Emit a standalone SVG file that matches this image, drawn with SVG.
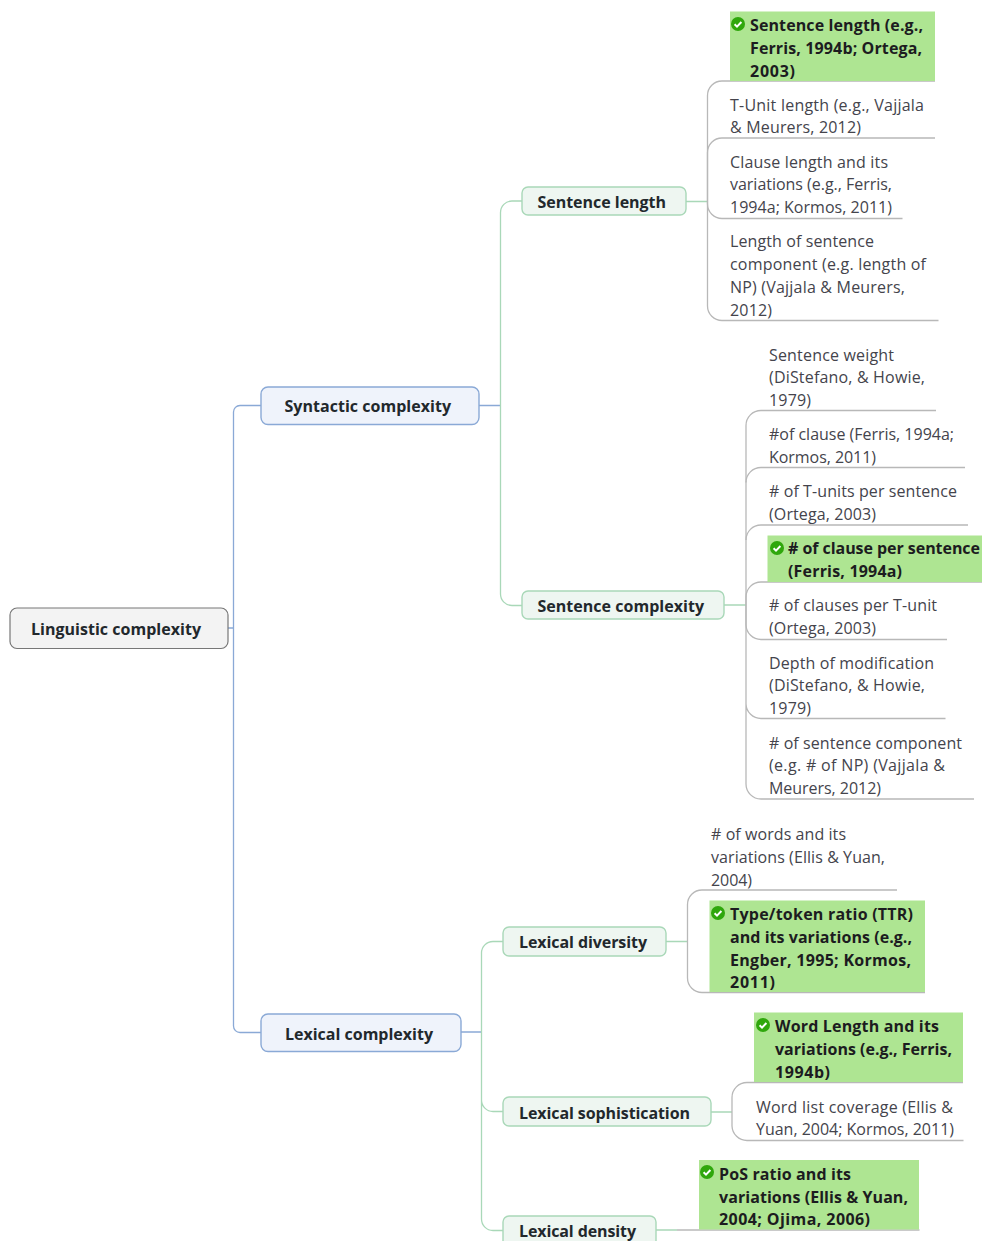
<svg xmlns="http://www.w3.org/2000/svg" width="982" height="1241" viewBox="0 0 982 1241">
<style>
text{font-family:"Open Sans","Noto Sans",sans-serif;font-size:16px;fill:#44444c}
.b{font-weight:700;fill:#1c1c20}
.t{font-weight:700;fill:#22282c}
.con{fill:none;stroke-width:1.3}
.blue{stroke:#8aa9d6}
.grn{stroke:#a9d8b8}
.gry{stroke:#b8b8b8}
.hl{fill:#aee592}
.n1{fill:#eff3fb;stroke:#8aa9d6;stroke-width:1.4}
.n2{fill:#eef6f1;stroke:#a9d8b8;stroke-width:1.4}
.r{fill:#f3f3f3;stroke:#777;stroke-width:1.2}
</style>
<defs><g id="ok"><circle r="7" fill="#2fa70c"/><path d="M-3.4 0.2 L-1 2.6 L3.4-2" fill="none" stroke="#fff" stroke-width="2"/></g></defs>
<g id="connectors">
<path class="con blue" d="M228 628H233.500M479 405.500H500.500M461 1032H481.500"/>
<path class="con blue" d="M261 405.500H240a6.500 6.500 0 0 0-6.500 6.500V1026a6.500 6.500 0 0 0 6.500 6.500H261"/>
<path class="con grn" d="M522 201H512a11.500 11.500 0 0 0-11.500 11.500V594a11.500 11.500 0 0 0 11.500 11.500H522"/>
<path class="con grn" d="M686 201.500H707.500M724 605H746M666 941.500H687.500M711 1112H732M656 1230H677"/>
<path class="con grn" d="M503 941.500H493a11.500 11.500 0 0 0-11.500 11.500V1100a11.500 11.500 0 0 0 11.500 11.500H503M481.500 1100V1219a11.500 11.500 0 0 0 11.500 11.500H503"/>
<path class="con gry" d="M935 81H722a14.500 14.500 0 0 0-14.500 14.500V306a14.500 14.500 0 0 0 14.500 14.500H938.500"/>
<path class="con gry" d="M935 138H722a14.500 14.500 0 0 0-14.500 14.500V204a14.500 14.500 0 0 0 14.500 14.500H902.500"/>
<path class="con gry" d="M936 410.500H761a15 15 0 0 0-15 15V704a15 15 0 0 0 15 14.500H945.500M746 704V784a15 15 0 0 0 15 15H974"/>
<path class="con gry" d="M965 467.500H761a15 15 0 0 0-15 15M968 525H761a15 15 0 0 0-15 15M982 582H761a15 15 0 0 0-15 15V625a15 15 0 0 0 15 14.500H947"/>
<path class="con gry" d="M897 890H702a14.500 14.500 0 0 0-14.500 14.500V978a14.500 14.500 0 0 0 14.500 14.500H925"/>
<path class="con gry" d="M963 1082.500H747a15 15 0 0 0-15 15V1126a15 15 0 0 0 15 14.500H963.500"/>
<path class="con gry" d="M677 1230H919.500"/>
</g>
<g id="root"><rect class="r" x="10" y="608" width="218" height="40.500" rx="7"/><text class="t" x="31" y="635" textLength="170">Linguistic complexity</text></g>
<g id="syntactic"><rect class="n1" x="261" y="387" width="218" height="37.500" rx="7"/><text class="t" x="284.500" y="412" textLength="166.500">Syntactic complexity</text></g>
<g id="lexical"><rect class="n1" x="261" y="1014" width="200" height="37.500" rx="7"/><text class="t" x="285" y="1040" textLength="148">Lexical complexity</text></g>
<g id="sentence-length"><rect class="n2" x="522" y="187" width="164" height="28" rx="6"/><text class="t" x="537.500" y="208" textLength="128.500">Sentence length</text></g>
<g id="sentence-complexity"><rect class="n2" x="522" y="591" width="202" height="28" rx="6"/><text class="t" x="537.500" y="612" textLength="166.500">Sentence complexity</text></g>
<g id="lexical-diversity"><rect class="n2" x="503" y="927" width="163" height="29" rx="6"/><text class="t" x="519" y="948" textLength="128">Lexical diversity</text></g>
<g id="lexical-sophistication"><rect class="n2" x="503" y="1097" width="208" height="29" rx="6"/><text class="t" x="519" y="1119" textLength="171">Lexical sophistication</text></g>
<g id="lexical-density"><rect class="n2" x="503" y="1216" width="153" height="40" rx="6"/><text class="t" x="519" y="1237" textLength="117">Lexical density</text></g>
<g id="leaf-sl1"><rect class="hl" x="730" y="11.500" width="205" height="69.500"/><use href="#ok" x="738" y="24"/><text class="b" x="750" y="31" textLength="173">Sentence length (e.g.,</text><text class="b" x="750" y="54" textLength="172">Ferris, 1994b; Ortega,</text><text class="b" x="750" y="77" textLength="45">2003)</text></g>
<g id="leaf-sl2"><text x="730" y="110.500" textLength="194">T-Unit length (e.g., Vajjala</text><text x="730" y="133" textLength="131">&amp; Meurers, 2012)</text></g>
<g id="leaf-sl3"><text x="730" y="167.500" textLength="158">Clause length and its</text><text x="730" y="190" textLength="162">variations (e.g., Ferris,</text><text x="730" y="213" textLength="162">1994a; Kormos, 2011)</text></g>
<g id="leaf-sl4"><text x="730" y="247" textLength="144">Length of sentence</text><text x="730" y="270" textLength="196">component (e.g. length of</text><text x="730" y="293" textLength="175">NP) (Vajjala &amp; Meurers,</text><text x="730" y="316" textLength="42">2012)</text></g>
<g id="leaf-sc1"><text x="769" y="360.500" textLength="125">Sentence weight</text><text x="769" y="383" textLength="156">(DiStefano, &amp; Howie,</text><text x="769" y="405.500" textLength="42">1979)</text></g>
<g id="leaf-sc2"><text x="769" y="440" textLength="185">#of clause (Ferris, 1994a;</text><text x="769" y="463" textLength="107">Kormos, 2011)</text></g>
<g id="leaf-sc3"><text x="769" y="497" textLength="188"># of T-units per sentence</text><text x="769" y="520" textLength="107">(Ortega, 2003)</text></g>
<g id="leaf-sc4"><rect class="hl" x="767.500" y="535.500" width="214.500" height="46.500"/><use href="#ok" x="777" y="548"/><text class="b" x="788" y="554" textLength="192"># of clause per sentence</text><text class="b" x="788" y="577" textLength="114">(Ferris, 1994a)</text></g>
<g id="leaf-sc5"><text x="769" y="611" textLength="168"># of clauses per T-unit</text><text x="769" y="634" textLength="107">(Ortega, 2003)</text></g>
<g id="leaf-sc6"><text x="769" y="668.500" textLength="165">Depth of modification</text><text x="769" y="691" textLength="156">(DiStefano, &amp; Howie,</text><text x="769" y="714" textLength="42">1979)</text></g>
<g id="leaf-sc7"><text x="769" y="748.500" textLength="193"># of sentence component</text><text x="769" y="771" textLength="176">(e.g. # of NP) (Vajjala &amp;</text><text x="769" y="794" textLength="112">Meurers, 2012)</text></g>
<g id="leaf-ld1"><text x="711" y="840" textLength="135"># of words and its</text><text x="711" y="863" textLength="174">variations (Ellis &amp; Yuan,</text><text x="711" y="886" textLength="41">2004)</text></g>
<g id="leaf-ld2"><rect class="hl" x="709.500" y="900.500" width="215.500" height="91.500"/><use href="#ok" x="718" y="913"/><text class="b" x="730" y="920" textLength="183">Type/token ratio (TTR)</text><text class="b" x="730" y="943" textLength="182">and its variations (e.g.,</text><text class="b" x="730" y="966" textLength="181">Engber, 1995; Kormos,</text><text class="b" x="730" y="988" textLength="45">2011)</text></g>
<g id="leaf-ls1"><rect class="hl" x="754" y="1012.500" width="209" height="69.500"/><use href="#ok" x="763" y="1025"/><text class="b" x="775" y="1032" textLength="164">Word Length and its</text><text class="b" x="775" y="1055" textLength="177">variations (e.g., Ferris,</text><text class="b" x="775" y="1077.500" textLength="55">1994b)</text></g>
<g id="leaf-ls2"><text x="756" y="1113" textLength="197">Word list coverage (Ellis &amp;</text><text x="756" y="1135" textLength="198">Yuan, 2004; Kormos, 2011)</text></g>
<g id="leaf-lde1"><rect class="hl" x="699" y="1160" width="220" height="69.500"/><use href="#ok" x="707" y="1172"/><text class="b" x="719" y="1180" textLength="132">PoS ratio and its</text><text class="b" x="719" y="1202.500" textLength="189">variations (Ellis &amp; Yuan,</text><text class="b" x="719" y="1225" textLength="151">2004; Ojima, 2006)</text></g>
</svg>
